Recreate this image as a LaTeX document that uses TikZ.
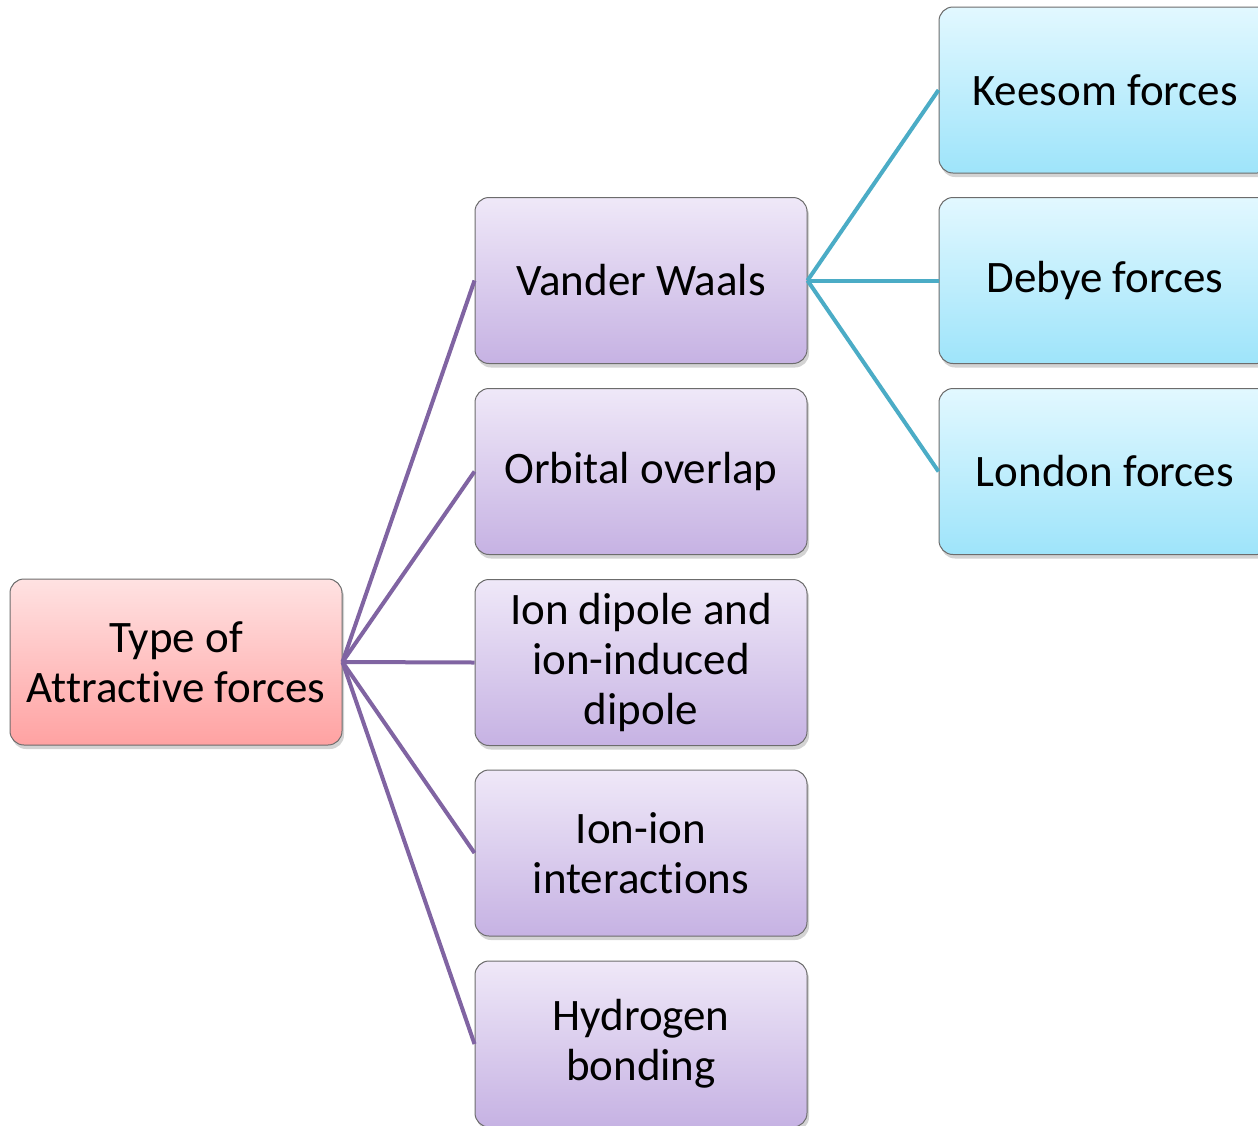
\documentclass[tikz,border=0pt]{standalone}
\usepackage{fontspec}
\setmainfont{Carlito}[RawFeature={-liga}]
\usetikzlibrary{shadows}
\definecolor{rootTop}{HTML}{FFE2E2}
\definecolor{rootBot}{HTML}{FFA2A2}
\definecolor{midTop}{HTML}{EFE8F8}
\definecolor{midBot}{HTML}{C6B2E3}
\definecolor{rgtTop}{HTML}{E2F8FF}
\definecolor{rgtBot}{HTML}{9EE4FA}
\definecolor{purpleLine}{HTML}{8064A2}
\definecolor{cyanLine}{HTML}{4BACC6}
\tikzset{
  box/.style={draw=gray!85!black, line width=1pt, rounded corners=14pt,
    minimum width=332pt, minimum height=166pt, inner sep=0pt, align=center,
    font=\fontsize{45}{50}\selectfont,
    drop shadow={shadow xshift=2pt, shadow yshift=-4pt, opacity=0.35, fill=gray}},
  rootbox/.style={box, top color=rootTop, bottom color=rootBot},
  midbox/.style={box, top color=midTop, bottom color=midBot},
  rgtbox/.style={box, top color=rgtTop, bottom color=rgtBot},
  plink/.style={draw=purpleLine, line width=4pt},
  clink/.style={draw=cyanLine, line width=4pt},
}
\begin{document}
\begin{tikzpicture}[x=1pt,y=-1pt]
\useasboundingbox (0,0) rectangle (1258,1125);
\begin{scope}
\clip (0,0) rectangle (1258,1125);
\node[rootbox] (root) at (176,662) {Type of\\Attractive forces};
\node[midbox] (vdw) at (641,280.5) {Vander Waals};
\node[midbox] (orb) at (641,471.5) {Orbital overlap};
\node[midbox] (ion) at (641,662.5) {Ion dipole and\\ion-induced\\dipole};
\node[midbox] (ii) at (641,853) {Ion-ion\\interactions};
\node[midbox] (hb) at (641,1044) {Hydrogen\\bonding};
\node[rgtbox] (kee) at (1105,90) {Keesom forces};
\node[rgtbox] (deb) at (1105,280.5) {Debye forces};
\node[rgtbox] (lon) at (1105,471.5) {London forces};
\end{scope}
\draw[plink] (root.east) -- (vdw.west);
\draw[plink] (root.east) -- (orb.west);
\draw[plink] (root.east) -- (ion.west);
\draw[plink] (root.east) -- (ii.west);
\draw[plink] (root.east) -- (hb.west);
\draw[clink] (vdw.east) -- (kee.west);
\draw[clink] (vdw.east) -- (deb.west);
\draw[clink] (vdw.east) -- (lon.west);
\end{tikzpicture}
\end{document}
